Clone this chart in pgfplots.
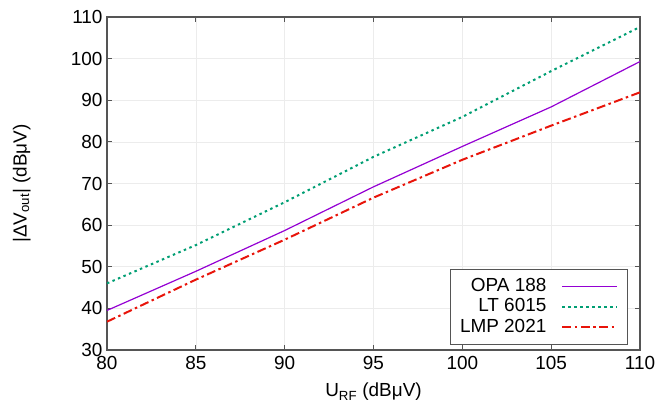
\documentclass[border=0pt]{standalone}
\usepackage{fontspec}
\setmainfont{Liberation Sans}
\usepackage{pgfplots}
\pgfplotsset{compat=1.18}

\definecolor{opa}{RGB}{148,0,211}
\definecolor{lt}{RGB}{0,158,115}
\definecolor{lmp}{RGB}{232,20,10}
\definecolor{frame}{RGB}{85,85,85}

\begin{document}
\begin{tikzpicture}
\begin{axis}[
    name=ax,
    scale only axis,
    width=533bp, height=333bp,
    xmin=80, xmax=110, ymin=30, ymax=110,
    xtick={80,85,...,110}, ytick={30,40,...,110},
    font=\fontsize{19}{22}\selectfont,
    /pgf/number format/assume math mode=true,
    tick align=inside,
    major tick length=5bp,
    tick style={frame, line width=0.8pt},
    axis line style={frame, line width=1.1pt},
    grid=major,
    major grid style={gray!15, line width=0.6pt},
    xticklabel style={yshift=-3bp},
    yticklabel style={xshift=-1bp},
    xlabel={U\textsubscript{RF} (dBμV)},
    ylabel={|ΔV\textsubscript{out}| (dBμV)},
    every axis x label/.style={at={(axis description cs:0.5,-0.126)}, anchor=center},
    every axis y label/.style={at={(axis description cs:-0.16,0.5)}, rotate=90, anchor=center},
    legend style={at={(axis description cs:0.977,0.015)}, anchor=south east,
      draw=frame, line width=0.8pt, font=\fontsize{19}{19}\selectfont,
      row sep=0pt, inner xsep=9bp, inner ysep=7bp,
      nodes={inner sep=1bp, text height=14bp, text depth=4.5bp}},
    legend cell align=right,
    legend plot pos=right,
    legend image code/.code={\path (0bp,0bp); \draw[#1] (14bp,0bp) -- (69bp,0bp);},
]
\addplot[opa, line width=1.2pt] coordinates {
(80,39.5) (85,48.9) (90,58.7) (95,69.2) (100,78.9) (105,88.4) (110,99.3)};
\addplot[lt, line width=2pt, dash pattern=on 2.5pt off 3.5pt] coordinates {
(80,46.0) (85,55.2) (90,65.5) (95,76.4) (100,86.0) (105,97.0) (110,107.6)};
\addplot[lmp, line width=2pt, dash pattern=on 9pt off 3.5pt on 2.5pt off 3.5pt] coordinates {
(80,36.8) (85,46.9) (90,56.5) (95,66.6) (100,75.7) (105,83.9) (110,91.9)};
\legend{OPA 188, LT 6015, LMP 2021}
\end{axis}
\pgfresetboundingbox
\path[use as bounding box] ([xshift=-107bp,yshift=-59bp]ax.south west) rectangle ([xshift=30bp,yshift=17bp]ax.north east);
\end{tikzpicture}
\end{document}
